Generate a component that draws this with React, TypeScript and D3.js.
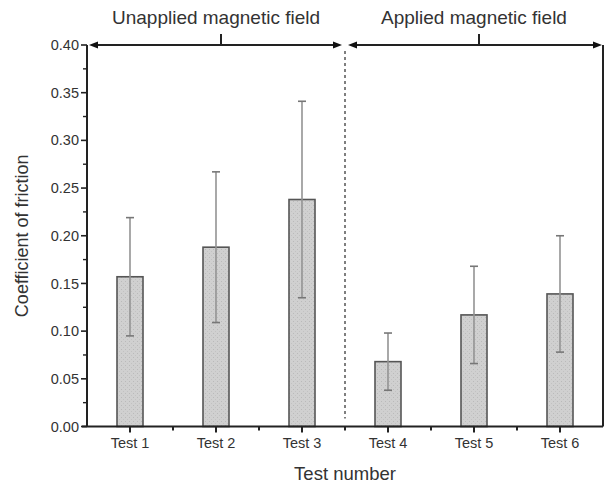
import React from "react";
import * as d3 from "d3";

// Test categories and measured friction coefficients (mean ± SD)
const tests = ["Test 1", "Test 2", "Test 3", "Test 4", "Test 5", "Test 6"];
const means = [0.157, 0.188, 0.238, 0.068, 0.117, 0.139];
const errors = [0.062, 0.079, 0.103, 0.03, 0.051, 0.061];

// Y axis ticks
const yMajor = [0, 0.05, 0.1, 0.15, 0.2, 0.25, 0.3, 0.35, 0.4];
const yMinor = [0.025, 0.075, 0.125, 0.175, 0.225, 0.275, 0.325, 0.375];

// Condition groups spanning the categories (first and last index)
const groupLabels = ["Unapplied magnetic field", "Applied magnetic field"];
const groupStart = [0, 3];
const groupEnd = [2, 5];

const W = 604;
const H = 489;
const LEFT = 87;
const RIGHT = 603;
const TOP = 45;
const BOTTOM = 426.5;
const BAR_W = 26;
const FONT = "'Liberation Sans', Arial, sans-serif";

export default function App() {
  const x = d3.scaleLinear().domain([0.5, tests.length + 0.5]).range([LEFT, RIGHT]);
  const y = d3.scaleLinear().domain([0, 0.4]).range([BOTTOM, TOP]);
  const fmt = d3.format(".2f");

  const arrowY = y(0.4);
  const divider = x(groupEnd[0] + 1.5);

  const arrowHead = (tipX: number, dir: number) => {
    const len = 9;
    const hw = 3.5;
    return `M${tipX},${arrowY} L${tipX - dir * len},${arrowY - hw} L${tipX - dir * len},${arrowY + hw} Z`;
  };

  const minorX = d3.range(1.5, tests.length, 1);

  return (
    <svg
      width={W}
      height={H}
      style={{ position: "absolute", left: 0, top: 0, background: "#fff" }}
      fontFamily={FONT}
    >
      <defs>
        <pattern id="stipple" width="4" height="4" patternUnits="userSpaceOnUse">
          <rect width="4" height="4" fill="#d0d0d0" />
          <rect x="1" y="1" width="1" height="1" fill="#bababa" />
          <rect x="3" y="3" width="1" height="1" fill="#c2c2c2" />
        </pattern>
      </defs>

      {/* group arrows */}
      {groupLabels.map((label, g) => {
        const x0 = g === 0 ? x(0.5) + 2 : divider + 3;
        const x1 = g === 0 ? divider - 3 : x(tests.length + 0.5) - 1;
        const mid = (x(groupStart[g] + 1) + x(groupEnd[g] + 1)) / 2 + 5;
        return (
          <g key={label}>
            <line x1={x0 + 4} x2={x1 - 4} y1={arrowY} y2={arrowY} stroke="#222" strokeWidth={2} />
            <path d={arrowHead(x0, -1)} fill="#111" />
            <path d={arrowHead(x1, 1)} fill="#111" />
            <line x1={mid} x2={mid} y1={arrowY} y2={arrowY - 11} stroke="#222" strokeWidth={2} />
            <text x={mid - 5} y={24} textAnchor="middle" fontSize={19} fill="#333">
              {label}
            </text>
          </g>
        );
      })}

      {/* dashed divider between conditions */}
      <line
        x1={divider}
        x2={divider}
        y1={arrowY + 6}
        y2={BOTTOM - 8}
        stroke="#555"
        strokeWidth={1.5}
        strokeDasharray="3,3"
      />

      {/* bars */}
      {means.map((m, i) => (
        <rect
          key={tests[i]}
          x={x(i + 1) - BAR_W / 2}
          y={y(m)}
          width={BAR_W}
          height={BOTTOM - y(m)}
          fill="url(#stipple)"
          stroke="#555"
          strokeWidth={1.6}
        />
      ))}

      {/* error bars */}
      {means.map((m, i) => {
        const cx = x(i + 1);
        const hi = y(m + errors[i]);
        const lo = y(m - errors[i]);
        return (
          <g key={"e" + i}>
            <line x1={cx} x2={cx} y1={hi} y2={lo} stroke="#939393" strokeWidth={1.6} />
            <line x1={cx - 4} x2={cx + 4} y1={hi} y2={hi} stroke="#777" strokeWidth={1.6} />
            <line x1={cx - 4} x2={cx + 4} y1={lo} y2={lo} stroke="#777" strokeWidth={1.6} />
          </g>
        );
      })}

      {/* frame: left axis, right border, bottom axis */}
      <line x1={LEFT} x2={LEFT} y1={TOP} y2={BOTTOM} stroke="#222" strokeWidth={2} />
      <line x1={RIGHT} x2={RIGHT} y1={TOP} y2={BOTTOM} stroke="#222" strokeWidth={2} />
      <line x1={LEFT - 5} x2={RIGHT} y1={BOTTOM} y2={BOTTOM} stroke="#222" strokeWidth={2} />

      {/* y ticks */}
      {yMajor.map((t) => (
        <g key={"y" + t}>
          <line x1={LEFT - 6} x2={LEFT} y1={y(t)} y2={y(t)} stroke="#222" strokeWidth={1.6} />
          <text
            x={LEFT - 8}
            y={y(t)}
            dy="0.35em"
            textAnchor="end"
            fontSize={14.5}
            fill="#333"
          >
            {fmt(t)}
          </text>
        </g>
      ))}
      {yMinor.map((t) => (
        <line key={"ym" + t} x1={LEFT - 4} x2={LEFT} y1={y(t)} y2={y(t)} stroke="#222" strokeWidth={1.4} />
      ))}

      {/* x ticks */}
      {tests.map((t, i) => (
        <g key={"x" + t}>
          <line x1={x(i + 1)} x2={x(i + 1)} y1={BOTTOM} y2={BOTTOM + 6} stroke="#222" strokeWidth={2} />
          <text x={x(i + 1)} y={BOTTOM + 21} textAnchor="middle" fontSize={14.5} fill="#333">
            {t}
          </text>
        </g>
      ))}
      {minorX.map((v) => (
        <line key={"xm" + v} x1={x(v)} x2={x(v)} y1={BOTTOM} y2={BOTTOM + 4} stroke="#222" strokeWidth={2} />
      ))}

      {/* axis titles */}
      <text x={(LEFT + RIGHT) / 2} y={480} textAnchor="middle" fontSize={18.5} fill="#333">
        Test number
      </text>
      <text
        transform={`translate(28,${(TOP + BOTTOM) / 2}) rotate(-90)`}
        textAnchor="middle"
        fontSize={18}
        fill="#333"
      >
        Coefficient of friction
      </text>
    </svg>
  );
}
